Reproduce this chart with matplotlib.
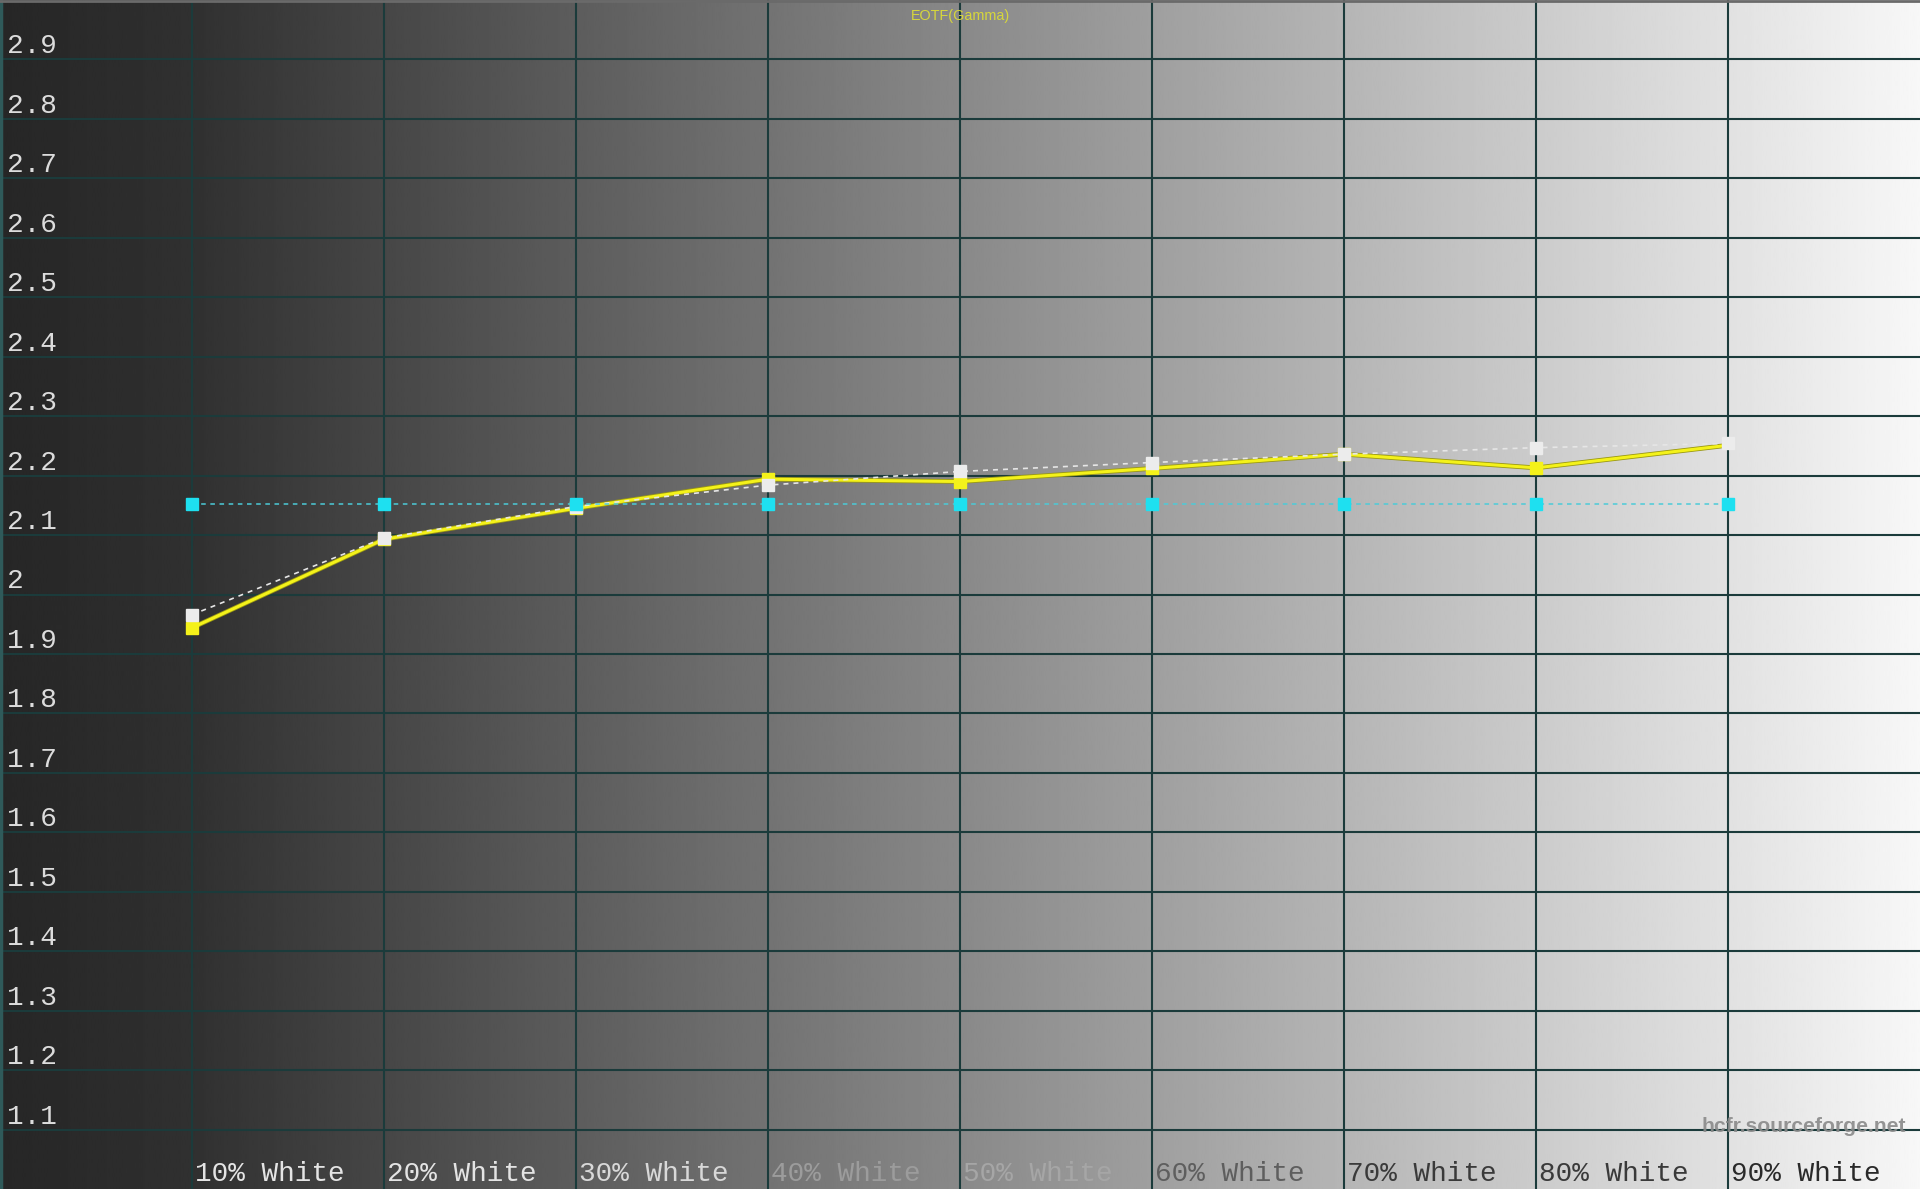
import numpy as np
import matplotlib
matplotlib.use("Agg")
import matplotlib.pyplot as plt
from matplotlib.transforms import offset_copy
import matplotlib.patheffects as pe

# ---------------- data ----------------
categories = ["10% White", "20% White", "30% White", "40% White", "50% White",
              "60% White", "70% White", "80% White", "90% White"]
x_pos = [1, 2, 3, 4, 5, 6, 7, 8, 9]
target_gamma = [2.152, 2.152, 2.152, 2.152, 2.152, 2.152, 2.152, 2.152, 2.152]
measured_gamma = [1.944, 2.093, 2.145, 2.194, 2.190, 2.212, 2.236, 2.213, 2.251]
reference_gamma = [1.966, 2.095, 2.148, 2.184, 2.207, 2.222, 2.236, 2.247, 2.254]
y_ticks = [1.1, 1.2, 1.3, 1.4, 1.5, 1.6, 1.7, 1.8, 1.9, 2.0,
           2.1, 2.2, 2.3, 2.4, 2.5, 2.6, 2.7, 2.8, 2.9]
y_tick_labels = ["1.1", "1.2", "1.3", "1.4", "1.5", "1.6", "1.7", "1.8", "1.9", "2",
                 "2.1", "2.2", "2.3", "2.4", "2.5", "2.6", "2.7", "2.8", "2.9"]
title = "EOTF(Gamma)"
watermark = "hcfr.sourceforge.net"

# ---------------- figure ----------------
W, H, DPI = 1920, 1189, 100
fig = plt.figure(figsize=(W / DPI, H / DPI), dpi=DPI)
ax = fig.add_axes([0, 0, 1, 1])
ax.set_xlim(0, 10)
ax.set_ylim(1.0, 3.0)
ax.axis("off")

# gradient background (dark left -> near white right)
gx = np.linspace(0, 10, 1000)
gv = np.where(gx < 1, 0.15 + 0.04 * gx, 0.19 + (gx - 1) * (0.97 - 0.19) / 9.0)
ax.imshow(gv[np.newaxis, :], extent=[0, 10, 1.0, 3.0], aspect="auto",
          cmap="gray", vmin=0, vmax=1, zorder=0, interpolation="bilinear")

grid_color = "#1b3b3b"
for yv in y_ticks:
    ax.axhline(yv, color=grid_color, lw=1.5, zorder=1)
for xv in x_pos:
    ax.axvline(xv, color=grid_color, lw=1.5, zorder=1)
ax.axvline(0.004, color="#2f5a5a", lw=2.5, zorder=1)
ax.axhline(2.998, color="#6a6a6a", lw=2.0, zorder=1)

# y labels (drawn above their grid line)
ytrans = offset_copy(ax.transData, fig=fig, x=0, y=13, units="dots")
for yv, lab in zip(y_ticks, y_tick_labels):
    ax.text(0.035, yv, lab, transform=ytrans, ha="left", va="center",
            fontsize=20, family="Liberation Mono", color="#dcdcdc", zorder=6)

# x labels
xlab_colors = ["#e4e4e4", "#e4e4e4", "#d8d8d8", "#9c9c9c", "#a6a6a6",
               "#5e5e5e", "#3a3a3a", "#3a3a3a", "#2a2a2a"]
xtrans = offset_copy(ax.transData, fig=fig, x=3, y=15, units="dots")
for xv, lab, c in zip(x_pos, categories, xlab_colors):
    ax.text(xv, 1.0, lab, transform=xtrans, ha="left", va="center",
            fontsize=20, family="Liberation Mono", color=c, zorder=6)

# series
ax.plot(x_pos, measured_gamma, color="#f4f21a", lw=2.2, zorder=3,
        path_effects=[pe.Stroke(linewidth=3.4, foreground="#9a9812"), pe.Normal()])
ax.plot(x_pos[:8], measured_gamma[:8], ls="none", marker="s", ms=8.5,
        mfc="#f4f21a", mec="#f4f21a", zorder=3.5)
ax.plot(x_pos, reference_gamma, color="#e6e6e6", lw=1.2, ls=(0, (3, 3)),
        marker="s", ms=8.5, mfc="#ececec", mec="#ececec", zorder=4)
ax.plot(x_pos, target_gamma, color="#4ccbd8", lw=1.1, ls=(0, (3, 3)),
        marker="s", ms=8.5, mfc="#1ee0f0", mec="#1ee0f0", zorder=5)

# title and watermark
fig.text(0.5, 1 - 16 / H, title, ha="center", va="center", fontsize=10.4,
         family="Liberation Sans", color="#d6d63c")
fig.text(1906 / W, 1 - 1126 / H, watermark, ha="right", va="center",
         fontsize=15.2, family="Liberation Sans", fontweight="bold",
         color="#8a8a8a", alpha=0.9)

fig.savefig("out.png", dpi=DPI)
